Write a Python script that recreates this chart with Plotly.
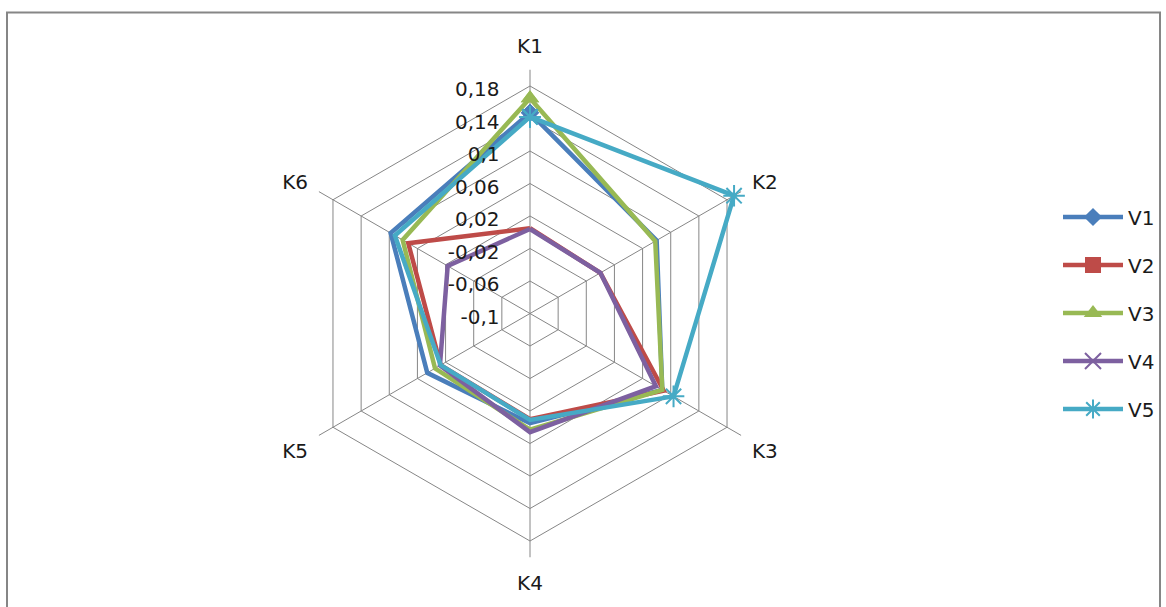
import plotly.graph_objects as go

# Radar data: six criteria, five variants
categories = ["K1", "K2", "K3", "K4", "K5", "K6"]
series_names = ["V1", "V2", "V3", "V4", "V5"]

v1 = [0.147, 0.080, 0.088, 0.035, 0.046, 0.098]
v2 = [0.005, 0.000, 0.090, 0.030, 0.027, 0.073]
v3 = [0.165, 0.078, 0.088, 0.043, 0.035, 0.081]
v4 = [0.004, 0.000, 0.079, 0.046, 0.028, 0.017]
v5 = [0.142, 0.190, 0.104, 0.031, 0.027, 0.092]

tick_values = [-0.1, -0.06, -0.02, 0.02, 0.06, 0.1, 0.14, 0.18]
tick_labels = ["-0,1", "-0,06", "-0,02", "0,02", "0,06", "0,1", "0,14", "0,18"]

series_values = [v1, v2, v3, v4, v5]
colors = ["#4A7EBB", "#BE4B48", "#98B954", "#7D60A0", "#46AAC5"]
symbols = ["diamond", "square", "triangle-up", "x-thin-open", "asterisk-open"]
sizes = [14, 16, 16, 16, 18]

FONT = "DejaVu Sans"
W, H = 1166, 607
cx, cy, rad = 530, 313.5, 243.75  # plot centre and outer radius in px

fig = go.Figure()
for name, vals, col, sym, sz in zip(series_names, series_values, colors, symbols, sizes):
    closed_r = vals + vals[:1]
    closed_t = categories + categories[:1]
    marker = dict(symbol=sym, size=sz, color=col)
    if sym.endswith("open"):
        marker["line"] = dict(color=col, width=2)
    else:
        marker["line"] = dict(width=0)
    fig.add_trace(go.Scatterpolar(
        r=closed_r, theta=closed_t, name=name, legendgroup=name,
        mode="lines+markers",
        line=dict(color=col, width=4.5),
        marker=marker,
    ))

fig.update_layout(
    width=W, height=H,
    margin=dict(l=0, r=0, t=0, b=0),
    paper_bgcolor="white",
    font=dict(family=FONT, size=20, color="#1a1a1a"),
    polar=dict(
        bgcolor="white",
        gridshape="linear",
        domain=dict(
            x=[(cx - rad) / W, (cx + rad) / W],
            y=[(H - cy - rad) / H, (H - cy + rad) / H],
        ),
        radialaxis=dict(
            range=[-0.1, 0.2],
            tickvals=tick_values,
            ticktext=tick_labels,
            angle=90,
            side="counterclockwise",
            showline=False,
            ticks="outside",
            ticklen=12,
            tickcolor="rgba(0,0,0,0)",
            gridcolor="#868686",
            gridwidth=1,
            tickfont=dict(family=FONT, size=20, color="#1a1a1a"),
        ),
        angularaxis=dict(
            rotation=90,
            direction="clockwise",
            showline=False,
            ticks="outside",
            ticklen=8,
            tickcolor="rgba(0,0,0,0)",
            gridcolor="#868686",
            gridwidth=1,
            tickfont=dict(family=FONT, size=20, color="#1a1a1a"),
        ),
    ),
    legend=dict(
        x=1058 / W, y=(H - 313) / H, xanchor="left", yanchor="middle",
        font=dict(family=FONT, size=20, color="#1a1a1a"),
        tracegroupgap=19,
        itemwidth=60,
        bgcolor="rgba(0,0,0,0)",
    ),
    shapes=[dict(
        type="rect", xref="paper", yref="paper",
        x0=7 / W, x1=1160 / W, y0=-0.05, y1=1 - 12.5 / H,
        line=dict(color="#868686", width=2),
        fillcolor="rgba(0,0,0,0)", layer="below",
    )],
)

fig.write_html("out.html")
